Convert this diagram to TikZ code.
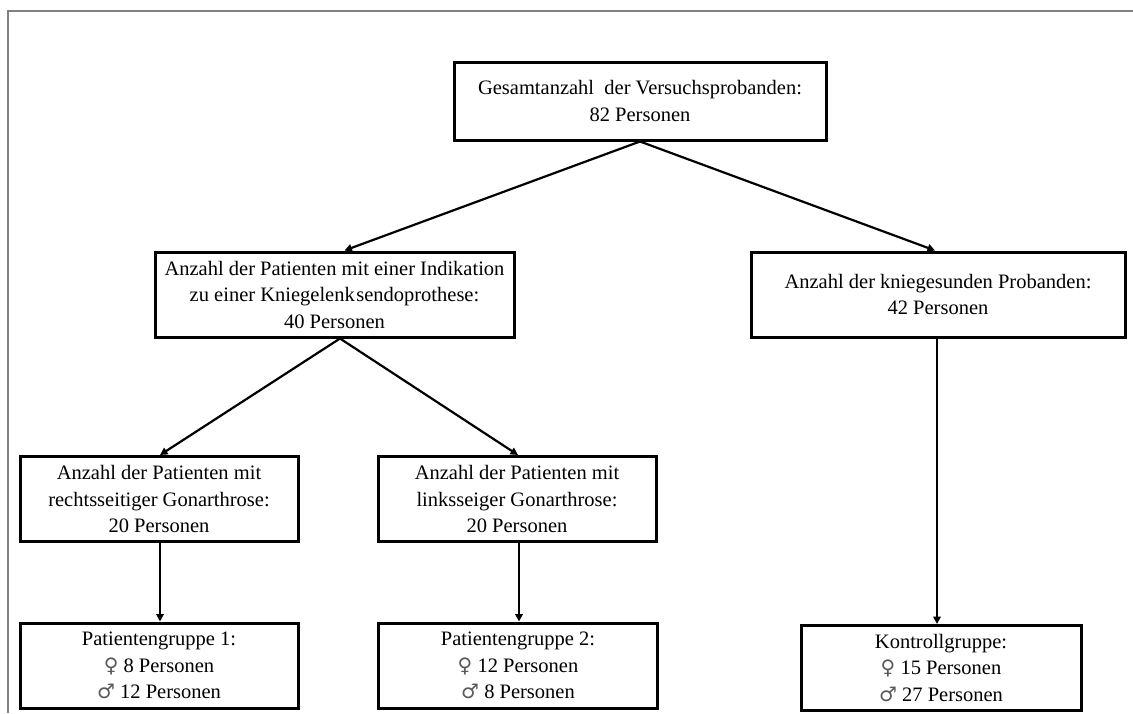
\documentclass[tikz,border=0pt]{standalone}
\usepackage{fontspec}
\setmainfont{Liberation Serif}
\newfontfamily\symfont{DejaVu Sans}
\usetikzlibrary{arrows.meta}
\newcommand{\fem}{{\symfont\color{black!65}\fontsize{20}{26}\selectfont ♀}}
\newcommand{\mal}{{\symfont\color{black!65}\fontsize{20}{26}\selectfont ♂}}
\begin{document}
\begin{tikzpicture}[x=1pt,y=-1pt,
  box/.style={draw=black, line width=3pt, rectangle, align=center, inner sep=0pt,
    font=\fontsize{20.5}{26.5}\selectfont},
  conn/.style={line width=2.2pt, -{Triangle[length=7.5pt,width=7.5pt]}}]
\useasboundingbox (0,0) rectangle (1133,713);
\fill[white] (0,0) rectangle (1133,713);
\draw[line width=2pt, black!50] (8,713) -- (8,11) -- (1133,11);

\node[box, minimum width=372pt, minimum height=78pt] (top) at (640,101)
  {Gesamtanzahl\ \ der Versuchsprobanden:\\82 Personen};
\node[box, minimum width=359pt, minimum height=85pt] (midl) at (334.5,294.5)
  {Anzahl\ der Patienten\ mit\ einer Indikation\\zu einer Kniegelenk\kern1.5pt sendoprothese:\\40 Personen};
\node[box, minimum width=374pt, minimum height=85pt] (midr) at (938,294.5)
  {Anzahl\ der kniegesunden\ Probanden:\\42 Personen};
\node[box, minimum width=278pt, minimum height=85pt] (lowl) at (159,499)
  {Anzahl\ der Patienten\ mit\\rechtsseitiger\ Gonarthrose:\\20 Personen};
\node[box, minimum width=278pt, minimum height=85pt] (lowm) at (517,499)
  {Anzahl\ der Patienten\ mit\\linksseiger\ Gonarthrose:\\20 Personen};
\node[box, minimum width=278pt, minimum height=85pt] (botl) at (159,665.5)
  {Patientengruppe\ 1:\\\fem\ 8 Personen\\\mal\ 12 Personen};
\node[box, minimum width=279pt, minimum height=85pt] (botm) at (518,665.5)
  {Patientengruppe\ 2:\\\fem\ 12 Personen\\\mal\ 8 Personen};
\node[box, minimum width=280pt, minimum height=85pt] (botr) at (941,668)
  {Kontrollgruppe:\\\fem\ 15 Personen\\\mal\ 27 Personen};

\draw[conn] (top.south) -- ([xshift=10pt]midl.north);
\draw[conn] (top.south) -- ([xshift=-3pt]midr.north);
\draw[conn] ([xshift=5.5pt]midl.south) -- ([xshift=1pt]lowl.north);
\draw[conn] ([xshift=5.5pt]midl.south) -- ([xshift=1pt]lowm.north);
\draw[conn] ([xshift=1pt]lowl.south) -- ([xshift=1pt]botl.north);
\draw[conn] ([xshift=2pt]lowm.south) -- ([xshift=1pt]botm.north);
\draw[conn] ([xshift=-1pt]midr.south) -- ([xshift=-4pt]botr.north);
\end{tikzpicture}
\end{document}
